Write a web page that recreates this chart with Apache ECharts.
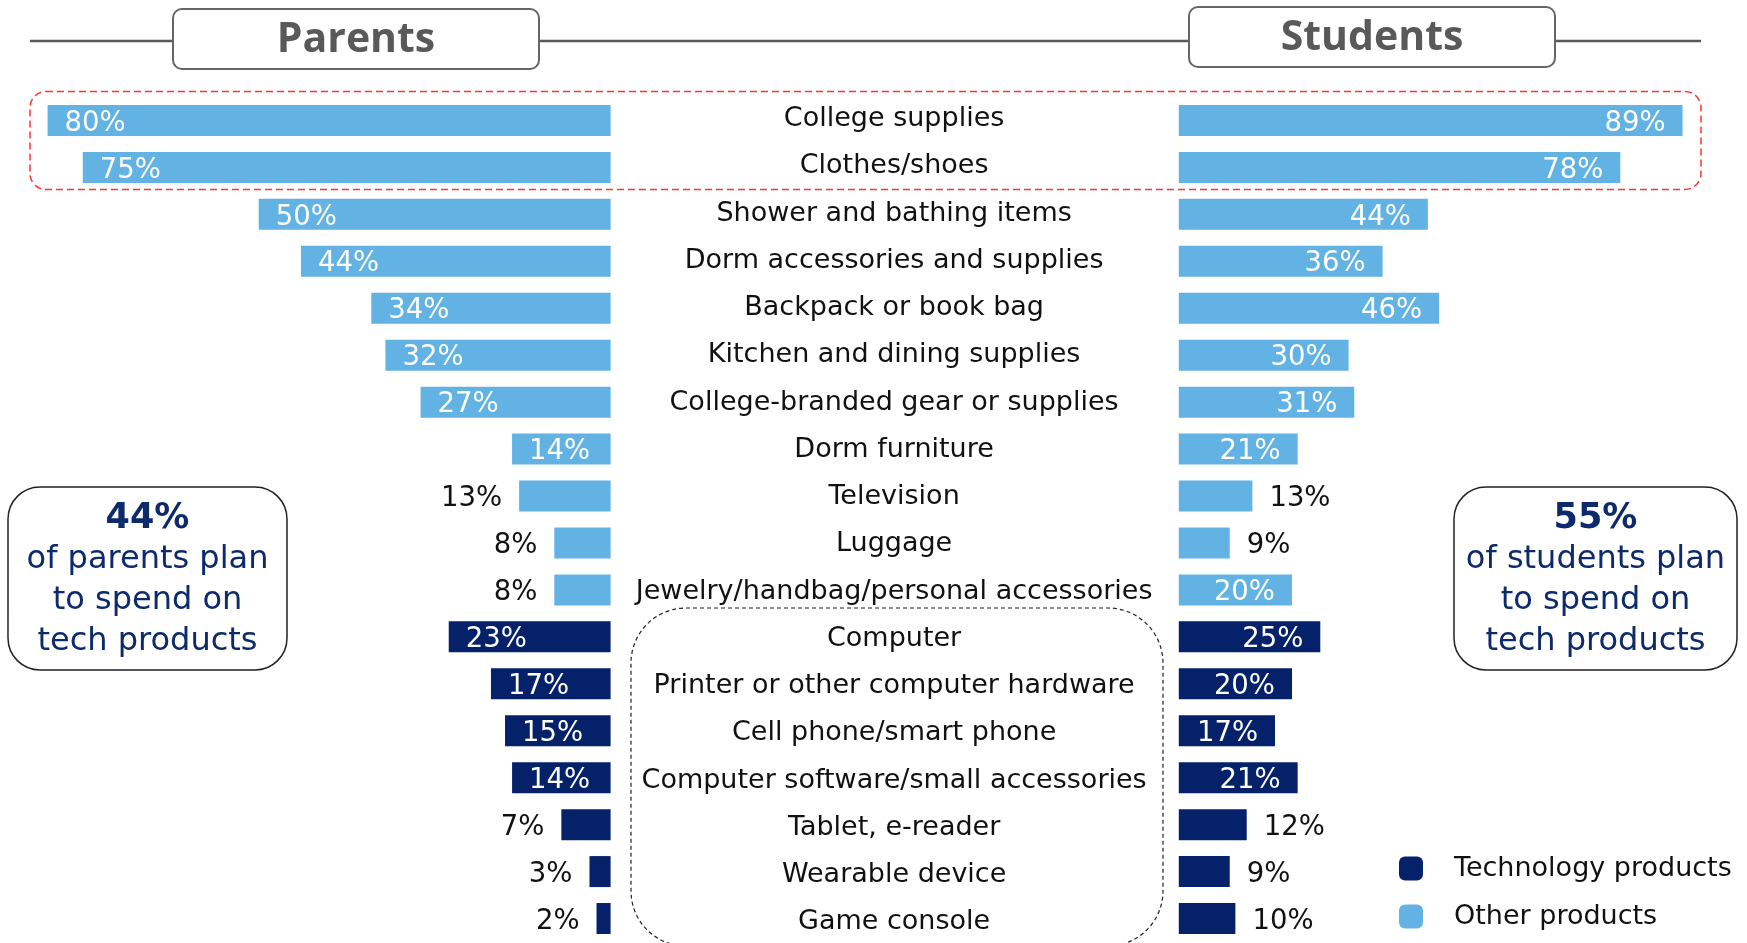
<!DOCTYPE html>
<html>
<head>
<meta charset="utf-8">
<script src="https://cdn.jsdelivr.net/npm/echarts@6/dist/echarts.min.js"></script>
<style>
  html, body { margin: 0; padding: 0; background: #fff; }
  #chart { width: 1747px; height: 943px; }
</style>
</head>
<body>
<div id="chart"></div>
<script>
const categories = [
  'College supplies', 'Clothes/shoes', 'Shower and bathing items',
  'Dorm accessories and supplies', 'Backpack or book bag', 'Kitchen and dining supplies',
  'College-branded gear or supplies', 'Dorm furniture', 'Television', 'Luggage',
  'Jewelry/handbag/personal accessories', 'Computer', 'Printer or other computer hardware',
  'Cell phone/smart phone', 'Computer software/small accessories', 'Tablet, e-reader',
  'Wearable device', 'Game console'
];
const parentsPct  = [80, 75, 50, 44, 34, 32, 27, 14, 13, 8, 8, 23, 17, 15, 14, 7, 3, 2];
const studentsPct = [89, 78, 44, 36, 46, 30, 31, 21, 13, 9, 20, 25, 20, 17, 21, 12, 9, 10];
const productType = ['other', 'other', 'other', 'other', 'other', 'other', 'other', 'other',
  'other', 'other', 'other', 'tech', 'tech', 'tech', 'tech', 'tech', 'tech', 'tech'];
const legendNames = ['Technology products', 'Other products'];
const panelTitles = ['Parents', 'Students'];
const techShare = ['44%', '55%'];
const techNotes = [['of parents plan', 'to spend on', 'tech products'],
                   ['of students plan', 'to spend on', 'tech products']];

const TECH = '#04216a';
const OTHER = '#62b3e4';
const NAVY = '#0c2a6c';
const FONT = 'DejaVu Sans';
const insideMin = 14;

// bars on one side for one product type; small values get their label outside
function sideData(values, type, side) {
  return values.map(function (v, i) {
    if (productType[i] !== type) return '-';
    const inside = v >= insideMin;
    let pos;
    if (side === 'left') pos = inside ? 'insideLeft' : 'left';
    else pos = inside ? 'insideRight' : 'right';
    return {
      value: v,
      label: { position: pos, color: inside ? '#fff' : '#111' }
    };
  });
}

function barSeries(name, values, type, side, idx) {
  return {
    name: name,
    type: 'bar',
    xAxisIndex: idx,
    yAxisIndex: idx,
    barWidth: 31,
    barGap: '-100%',
    itemStyle: { color: type === 'tech' ? TECH : OTHER },
    label: {
      show: true,
      formatter: '{c}%',
      fontFamily: FONT,
      fontSize: 27.5,
      distance: 17,
      offset: [0, 3]
    },
    data: sideData(values, type, side)
  };
}

const chart = echarts.init(document.getElementById('chart'));

const gridTop = 97;
const gridHeight = 845;

function sideBox(x, w, i) {
  return {
    type: 'group',
    children: [
      {
        type: 'rect',
        shape: { x: x, y: 487, width: w, height: 183, r: 32 },
        style: { fill: '#fff', stroke: '#222', lineWidth: 1.5 }
      },
      {
        type: 'text',
        style: {
          x: x + w / 2, y: 580.5,
          text: '{b|' + techShare[i] + '}\n' + techNotes[i].map(function (t) { return '{n|' + t + '}'; }).join('\n'),
          align: 'center', verticalAlign: 'middle',
          fill: NAVY,
          rich: {
            b: { fontFamily: FONT, fontWeight: 'bold', fontSize: 35, lineHeight: 41, fill: NAVY },
            n: { fontFamily: FONT, fontSize: 32, lineHeight: 41, fill: NAVY }
          }
        }
      }
    ]
  };
}

function titleBox(x, y, i) {
  return {
    type: 'group',
    children: [
      {
        type: 'rect',
        shape: { x: x, y: y, width: 366, height: 60, r: 9 },
        style: { fill: '#fff', stroke: '#666', lineWidth: 2 }
      },
      {
        type: 'text',
        style: {
          x: x + 183, y: y + 31, text: panelTitles[i],
          align: 'center', verticalAlign: 'middle',
          fontFamily: 'Open Sans', fontWeight: 'bold', fontSize: 41, fill: '#595959'
        }
      }
    ]
  };
}

chart.setOption({
  animation: false,
  legend: {
    data: legendNames,
    orient: 'vertical',
    left: 1399,
    top: 855,
    padding: 0,
    itemWidth: 24,
    itemHeight: 24,
    itemGap: 21,
    icon: 'roundRect',
    selectedMode: false,
    textStyle: { fontFamily: FONT, fontSize: 27, lineHeight: 26, color: '#111', padding: [0, 0, 0, 26] }
  },
  grid: [
    { left: 12.4, width: 598.2, top: gridTop, height: gridHeight, outerBoundsMode: 'none' },
    { left: 1178.8, width: 566, top: gridTop, height: gridHeight, outerBoundsMode: 'none' },
    // category names sit in the middle, spaced a little wider than the bars
    { left: 12.4, width: 598.2, top: 95.6, height: 850.5, outerBoundsMode: 'none' }
  ],
  xAxis: [
    { gridIndex: 0, type: 'value', min: 0, max: 85, inverse: true, show: false },
    { gridIndex: 1, type: 'value', min: 0, max: 100, show: false },
    { gridIndex: 2, type: 'value', min: 0, max: 85, inverse: true, show: false }
  ],
  yAxis: [
    {
      gridIndex: 0, type: 'category', data: categories, inverse: true,
      axisLine: { show: false }, axisTick: { show: false }, axisLabel: { show: false }
    },
    {
      gridIndex: 1, type: 'category', data: categories, inverse: true,
      axisLine: { show: false }, axisTick: { show: false }, axisLabel: { show: false }
    },
    {
      gridIndex: 2, type: 'category', data: categories, inverse: true, position: 'right',
      axisLine: { show: false }, axisTick: { show: false },
      axisLabel: {
        interval: 0, align: 'center', margin: 283.5,
        fontFamily: FONT, fontSize: 27, color: '#111'
      }
    }
  ],
  series: [
    barSeries(legendNames[1], parentsPct, 'other', 'left', 0),
    barSeries(legendNames[0], parentsPct, 'tech', 'left', 0),
    barSeries(legendNames[1], studentsPct, 'other', 'right', 1),
    barSeries(legendNames[0], studentsPct, 'tech', 'right', 1)
  ],
  graphic: [
    {
      type: 'line', z: 0,
      shape: { x1: 30, y1: 41, x2: 1701, y2: 41 },
      style: { stroke: '#595959', lineWidth: 2.5 }
    },
    titleBox(173, 9, 0),
    titleBox(1189, 7, 1),
    {
      type: 'rect', z: 0,
      shape: { x: 30, y: 91.5, width: 1671, height: 98, r: 16 },
      style: { fill: 'none', stroke: '#ff3333', lineWidth: 1.5, lineDash: [7, 4] }
    },
    {
      type: 'rect', z: 0,
      shape: { x: 631, y: 608, width: 532, height: 338, r: 55 },
      style: { fill: 'none', stroke: '#222', lineWidth: 1.2, lineDash: [4, 3] }
    },
    sideBox(8, 279, 0),
    sideBox(1454, 283, 1)
  ]
});
</script>
</body>
</html>
